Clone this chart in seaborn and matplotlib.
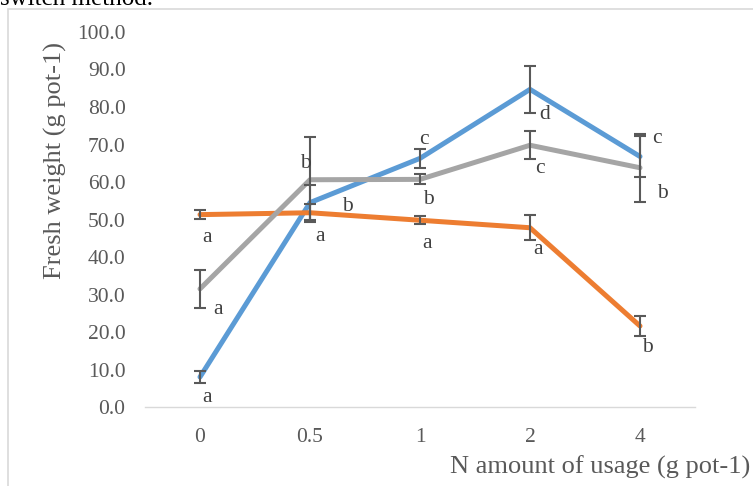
import numpy as np
import pandas as pd
import matplotlib
matplotlib.use("Agg")
import matplotlib.pyplot as plt
from matplotlib.patches import Rectangle
import seaborn as sns

# values
n_amount = ["0", "0.5", "1", "2", "4"]
series_names = ["Series1", "Series2", "Series3"]
weight_blue = [8.0, 54.5, 66.3, 84.7, 66.8]
err_blue = [1.6, 4.7, 2.5, 6.3, 5.4]
weight_orange = [51.3, 51.8, 49.8, 47.8, 21.6]
err_orange = [1.2, 2.2, 1.1, 3.4, 2.7]
weight_gray = [31.5, 60.6, 60.7, 69.8, 63.8]
err_gray = [5.0, 11.3, 1.3, 3.7, 9.0]
letters_blue = ["a", "b", "c", "d", "c"]
letters_orange = ["a", "a", "a", "a", "b"]
letters_gray = ["a", "b", "b", "c", "b"]
y_ticks = [0, 10, 20, 30, 40, 50, 60, 70, 80, 90, 100]

colors = ["#5B9BD5", "#ED7D31", "#A5A5A5"]
text_col = "#595959"

sns.set_style("white")
plt.rcParams["font.family"] = ["Liberation Serif", "DejaVu Serif"]

values = [weight_blue, weight_orange, weight_gray]
errors = [err_blue, err_orange, err_gray]
df = pd.DataFrame({
    "n_amount": n_amount * 3,
    "fresh_weight": weight_blue + weight_orange + weight_gray,
    "series": np.repeat(series_names, len(n_amount)),
})

fig = plt.figure(figsize=(7.53, 4.86), dpi=100)
ax = fig.add_axes([145 / 753, 1 - 407 / 486, 550 / 753, 375 / 486])

sns.lineplot(data=df, x="n_amount", y="fresh_weight", hue="series",
             palette=colors, linewidth=3.6, legend=False, ax=ax, sort=False)

x_pos = np.arange(len(n_amount))
for vals, errs in zip(values, errors):
    ax.errorbar(x_pos, vals, yerr=errs, fmt="none", ecolor="#595959",
                elinewidth=1.5, capsize=4, capthick=1.5, zorder=5)

# significance letters, offsets in pixels from each point
offs_blue = [(7, -20), (37, -4), (4, 19), (15, -25), (17, 18)]
offs_orange = [(7, -23), (10, -24), (7, -23), (8, -22), (7, -21)]
offs_gray = [(18, -21), (-5, 16), (8, -20), (10, -23), (22, -26)]
for vals, labs, offs in [(weight_blue, letters_blue, offs_blue),
                         (weight_orange, letters_orange, offs_orange),
                         (weight_gray, letters_gray, offs_gray)]:
    for i, (v, lab, (dx, dy)) in enumerate(zip(vals, labs, offs)):
        ax.annotate(lab, (i, v), xytext=(dx * 0.72, dy * 0.72),
                    textcoords="offset points", ha="center", va="center",
                    fontsize=15.5, color="#404040", zorder=6)

ax.set_xlim(-0.5, len(n_amount) - 0.5)
ax.set_ylim(0, 100)
ax.set_yticks(y_ticks)
ax.set_yticklabels([f"{t:.1f}" for t in y_ticks])
ax.set_xticks(x_pos)
ax.set_xticklabels(n_amount)
ax.set_xticks(np.arange(-0.5, len(n_amount)), minor=True)
ax.tick_params(axis="x", which="major", length=0, pad=15, labelsize=15.5,
               labelcolor=text_col)
ax.tick_params(axis="x", which="minor", length=5, width=1, color="#D9D9D9",
               direction="out")
ax.tick_params(axis="y", length=0, pad=14, labelsize=15.5, labelcolor=text_col)
ax.set_xlabel("")
ax.set_ylabel("")
for side in ["left", "right", "top"]:
    ax.spines[side].set_visible(False)
ax.spines["bottom"].set_color("#D9D9D9")
ax.spines["bottom"].set_linewidth(1)

fig.text(55 / 753, 1 - 160 / 486, "Fresh weight (g pot-1)", rotation=90,
         ha="center", va="center", fontsize=19, color=text_col)
fig.text(750 / 753, 1 - 467 / 486, "N amount of usage (g pot-1)",
         ha="right", va="center", fontsize=19, color=text_col)

# chart border and the cut-off caption above it
fig.patches.append(Rectangle((8 / 753, -0.1), 1.2, 1 - 9 / 486 + 0.1,
                             transform=fig.transFigure, fill=False,
                             edgecolor="#D9D9D9", linewidth=1.2))
fig.text(0.0, 1 - 5 / 486, "switch method.", ha="left", va="baseline",
         fontsize=18, color="black")

fig.savefig("out.png", dpi=100)
